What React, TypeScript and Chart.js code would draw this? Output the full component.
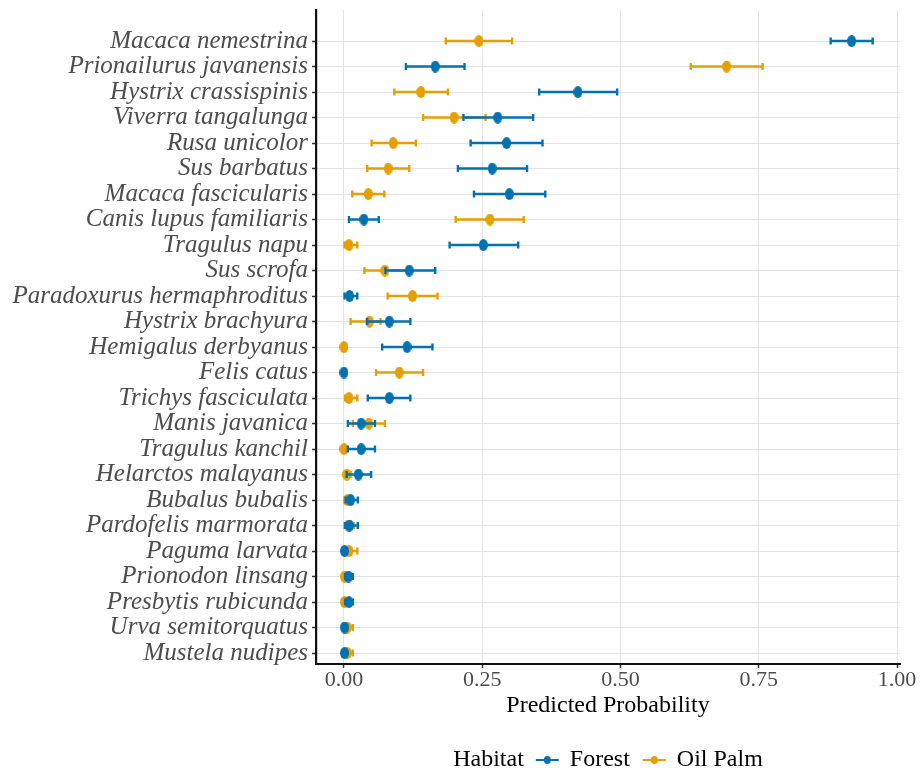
import React, { useEffect, useRef } from 'react';
import { Chart, registerables } from 'chart.js';

Chart.register(...registerables);

const species = [
  'Macaca nemestrina', 'Prionailurus javanensis', 'Hystrix crassispinis', 'Viverra tangalunga',
  'Rusa unicolor', 'Sus barbatus', 'Macaca fascicularis', 'Canis lupus familiaris', 'Tragulus napu',
  'Sus scrofa', 'Paradoxurus hermaphroditus', 'Hystrix brachyura', 'Hemigalus derbyanus', 'Felis catus',
  'Trichys fasciculata', 'Manis javanica', 'Tragulus kanchil', 'Helarctos malayanus', 'Bubalus bubalis',
  'Pardofelis marmorata', 'Paguma larvata', 'Prionodon linsang', 'Presbytis rubicunda',
  'Urva semitorquatus', 'Mustela nudipes',
];

const forestMean = [0.918, 0.165, 0.423, 0.278, 0.294, 0.268, 0.299, 0.036, 0.252, 0.118, 0.010, 0.082, 0.114, 0.000, 0.082, 0.031, 0.031, 0.026, 0.012, 0.010, 0.001, 0.008, 0.009, 0.001, 0.001];
const forestLow = [0.880, 0.112, 0.353, 0.216, 0.229, 0.206, 0.235, 0.009, 0.191, 0.075, 0.001, 0.042, 0.069, 0.000, 0.043, 0.007, 0.007, 0.005, 0.003, 0.002, 0.000, 0.002, 0.002, 0.000, 0.000];
const forestHigh = [0.956, 0.218, 0.494, 0.342, 0.359, 0.331, 0.364, 0.063, 0.315, 0.165, 0.024, 0.120, 0.160, 0.002, 0.120, 0.056, 0.056, 0.049, 0.025, 0.025, 0.004, 0.016, 0.016, 0.003, 0.003];

const palmMean = [0.244, 0.692, 0.139, 0.199, 0.089, 0.080, 0.044, 0.264, 0.009, 0.074, 0.124, 0.046, 0.000, 0.100, 0.009, 0.045, 0.000, 0.005, 0.006, 0.008, 0.009, 0.001, 0.001, 0.006, 0.006];
const palmLow = [0.184, 0.627, 0.091, 0.143, 0.050, 0.042, 0.015, 0.202, 0.001, 0.037, 0.079, 0.012, 0.000, 0.058, 0.002, 0.016, 0.000, 0.001, 0.001, 0.001, 0.002, 0.000, 0.000, 0.001, 0.001];
const palmHigh = [0.304, 0.757, 0.188, 0.256, 0.130, 0.118, 0.073, 0.325, 0.024, 0.115, 0.169, 0.066, 0.002, 0.143, 0.024, 0.074, 0.003, 0.012, 0.016, 0.018, 0.024, 0.005, 0.005, 0.016, 0.016];

const xTicks = [0, 0.25, 0.5, 0.75, 1.0];
const legendTitle = 'Habitat';
const habitats = ['Forest', 'Oil Palm'];

const FOREST = '#0072B2';
const PALM = '#E69F00';
const SERIF = '"Liberation Serif", "Times New Roman", serif';

function makeDot(color: string, w: number, h: number) {
  const c = document.createElement('canvas');
  c.width = w;
  c.height = h;
  const g = c.getContext('2d')!;
  g.fillStyle = color;
  g.beginPath();
  g.ellipse(w / 2, h / 2, w / 2, h / 2, 0, 0, Math.PI * 2);
  g.fill();
  return c;
}

const errorBars = {
  id: 'errorBars',
  beforeDatasetDraw(chart: any, args: any) {
    const ds = chart.data.datasets[args.index];
    const { ctx } = chart;
    const x = chart.scales.x;
    const y = chart.scales.y;
    ctx.save();
    ctx.strokeStyle = ds.borderColor;
    ctx.lineWidth = 2.4;
    ds.low.forEach((lo: number, i: number) => {
      const yy = y.getPixelForValue(i);
      const x1 = x.getPixelForValue(lo);
      const x2 = x.getPixelForValue(ds.high[i]);
      ctx.beginPath();
      ctx.moveTo(x1, yy);
      ctx.lineTo(x2, yy);
      ctx.moveTo(x1, yy - 3.5);
      ctx.lineTo(x1, yy + 3.5);
      ctx.moveTo(x2, yy - 3.5);
      ctx.lineTo(x2, yy + 3.5);
      ctx.stroke();
    });
    ctx.restore();
  },
};

const habitatLegend = {
  id: 'habitatLegend',
  afterDraw(chart: any) {
    const { ctx, chartArea } = chart;
    const colors = [FOREST, PALM];
    ctx.save();
    ctx.font = `24px ${SERIF}`;
    ctx.textBaseline = 'middle';
    ctx.fillStyle = '#000';
    const symW = 23, gapTitle = 12, gapSym = 11, gapItem = 13;
    let total = ctx.measureText(legendTitle).width + gapTitle;
    habitats.forEach((h, k) => {
      total += symW + gapSym + ctx.measureText(h).width + (k < habitats.length - 1 ? gapItem : 0);
    });
    let xp = (chartArea.left + chartArea.right) / 2 - total / 2;
    const yMid = 760;
    ctx.fillText(legendTitle, xp, yMid);
    xp += ctx.measureText(legendTitle).width + gapTitle;
    habitats.forEach((h, k) => {
      ctx.strokeStyle = colors[k];
      ctx.fillStyle = colors[k];
      ctx.lineWidth = 2;
      ctx.beginPath();
      ctx.moveTo(xp, yMid);
      ctx.lineTo(xp + symW, yMid);
      ctx.stroke();
      ctx.beginPath();
      ctx.ellipse(xp + symW / 2, yMid, 3.5, 4, 0, 0, Math.PI * 2);
      ctx.fill();
      xp += symW + gapSym;
      ctx.fillStyle = '#000';
      ctx.fillText(h, xp, yMid);
      xp += ctx.measureText(h).width + gapItem;
    });
    ctx.restore();
  },
};

export default function App() {
  const ref = useRef<HTMLCanvasElement>(null);

  useEffect(() => {
    if (!ref.current) return;
    const toPts = (arr: number[]) => arr.map((v, i) => ({ x: v, y: i }));
    const chart = new Chart(ref.current, {
      type: 'scatter',
      data: {
        datasets: [
          {
            label: habitats[0],
            data: toPts(forestMean),
            low: forestLow,
            high: forestHigh,
            borderColor: FOREST,
            backgroundColor: FOREST,
            pointStyle: makeDot(FOREST, 9, 12),
            pointRadius: 5,
          } as any,
          {
            label: habitats[1],
            data: toPts(palmMean),
            low: palmLow,
            high: palmHigh,
            borderColor: PALM,
            backgroundColor: PALM,
            pointStyle: makeDot(PALM, 9, 12),
            pointRadius: 5,
          } as any,
        ],
      },
      options: {
        animation: false,
        responsive: false,
        layout: { padding: { top: 10, right: 20, left: 0, bottom: 0 } },
        plugins: {
          legend: { display: false },
          tooltip: { enabled: false },
        },
        scales: {
          x: {
            type: 'linear',
            min: -0.0506,
            max: 1.0054,
            afterBuildTicks: (s: any) => {
              s.ticks = xTicks.map((v) => ({ value: v }));
            },
            afterFit: (s: any) => {
              s.height = 113;
              s.paddingLeft = 0;
              s.paddingRight = 0;
            },
            ticks: {
              callback: (v: any) => Number(v).toFixed(2),
              color: '#4D4D4D',
              font: { family: SERIF, size: 22, lineHeight: 1.0 },
              padding: 1,
              maxRotation: 0,
            },
            grid: { color: '#E3E3E3', lineWidth: 1, tickColor: '#333', tickLength: 4, tickWidth: 1.5 },
            border: { display: true, color: '#111', width: 2 },
            title: {
              display: true,
              text: 'Predicted Probability',
              color: '#000',
              font: { family: SERIF, size: 24, lineHeight: 1.2 },
              padding: { top: 0, bottom: 57 },
            },
          },
          y: {
            type: 'linear',
            reverse: true,
            min: -1.216,
            max: 24.43,
            afterBuildTicks: (s: any) => {
              s.ticks = species.map((_, i) => ({ value: i }));
            },
            afterFit: (s: any) => {
              s.width = 316;
              s.paddingTop = 0;
              s.paddingBottom = 0;
            },
            ticks: {
              callback: (v: any) => species[Number(v)] ?? '',
              color: '#4D4D4D',
              font: { family: SERIF, size: 25, style: 'italic', lineHeight: 1.0 },
              padding: 4,
              autoSkip: false,
            },
            grid: { color: '#E3E3E3', lineWidth: 1, tickColor: '#333', tickLength: 4, tickWidth: 1.5 },
            border: { display: true, color: '#111', width: 2.2 },
          },
        },
      },
      plugins: [errorBars, habitatLegend],
    });
    return () => chart.destroy();
  }, []);

  return (
    <div style={{ position: 'absolute', left: 0, top: 0, width: 920, height: 777, background: '#fff' }}>
      <canvas ref={ref} width={920} height={777} style={{ width: 920, height: 777, display: 'block' }} />
    </div>
  );
}
